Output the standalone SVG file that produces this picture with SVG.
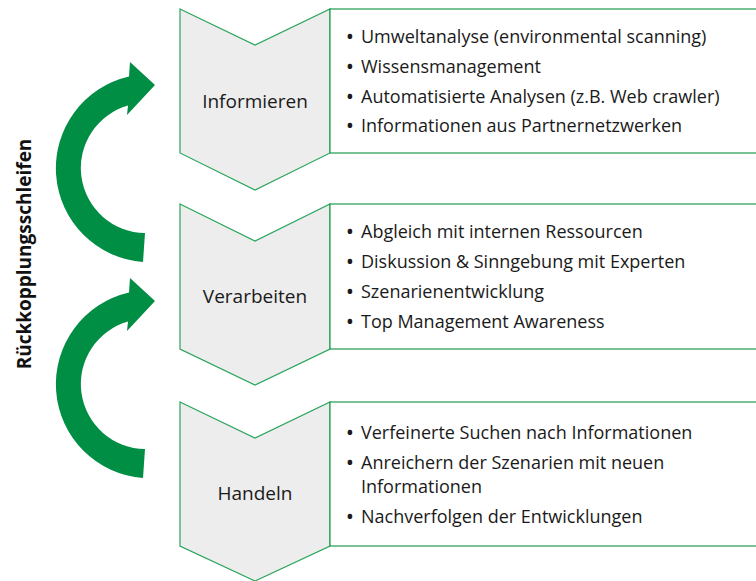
<svg xmlns="http://www.w3.org/2000/svg" width="756" height="581" viewBox="0 0 756 581">
<style>
.chev{fill:#EDEDED;stroke:#2BA55D;stroke-width:1.2}
.box{fill:#FFFFFF;stroke:#1E9A50;stroke-width:1.2}
.lbl{font-family:"Open Sans","Noto Sans",sans-serif;font-size:19px;fill:#1a1a1a;text-anchor:middle}
.itm{font-family:"Open Sans","Noto Sans",sans-serif;font-size:18px;fill:#1a1a1a}
.bul{font-family:"Open Sans","Noto Sans",sans-serif;font-size:22px;fill:#1a1a1a;text-anchor:middle}
.loop{fill:#008D44}
.side{font-family:"Open Sans","Noto Sans",sans-serif;font-size:19px;font-weight:bold;fill:#111;text-anchor:middle}
</style>
<defs>
<path id="loopArrow" class="loop" d="M143 262 A94 94 0 0 1 129 76.6 L130 62 L155 85 L127 115 L128 105.5 A65 65 0 0 0 145 233 Z"/>
</defs>
<g id="connectors">
<use href="#loopArrow"/>
<use href="#loopArrow" transform="translate(0,216)"/>
</g>
<text class="side" transform="translate(31,254) rotate(-90)">Rückkopplungsschleifen</text>
<g id="node-informieren">
<polygon class="chev" points="180,9 255,45 330,9 330,153 255,190 180,153"/>
<text class="lbl" x="255" y="108">Informieren</text>
</g>
<g id="box-informieren">
<rect class="box" x="330" y="9" width="430" height="144"/>
<text class="bul" x="350" y="44">•</text><text class="itm" x="361" y="43">Umweltanalyse (environmental scanning)</text>
<text class="bul" x="350" y="74">•</text><text class="itm" x="361" y="73">Wissensmanagement</text>
<text class="bul" x="350" y="104">•</text><text class="itm" x="361" y="103">Automatisierte Analysen (z.B. Web crawler)</text>
<text class="bul" x="350" y="133">•</text><text class="itm" x="361" y="132">Informationen aus Partnernetzwerken</text>
</g>
<g id="node-verarbeiten">
<polygon class="chev" points="180,204 255,241 330,204 330,349 255,385 180,349"/>
<text class="lbl" x="255" y="303">Verarbeiten</text>
</g>
<g id="box-verarbeiten">
<rect class="box" x="330" y="204" width="430" height="145"/>
<text class="bul" x="350" y="239">•</text><text class="itm" x="361" y="238">Abgleich mit internen Ressourcen</text>
<text class="bul" x="350" y="269">•</text><text class="itm" x="361" y="268">Diskussion &amp; Sinngebung mit Experten</text>
<text class="bul" x="350" y="299">•</text><text class="itm" x="361" y="298">Szenarienentwicklung</text>
<text class="bul" x="350" y="329">•</text><text class="itm" x="361" y="328">Top Management Awareness</text>
</g>
<g id="node-handeln">
<polygon class="chev" points="180,402 255,438 330,402 330,546 255,581 180,546"/>
<text class="lbl" x="255" y="500">Handeln</text>
</g>
<g id="box-handeln">
<rect class="box" x="330" y="402" width="430" height="144"/>
<text class="bul" x="350" y="440">•</text><text class="itm" x="361" y="439">Verfeinerte Suchen nach Informationen</text>
<text class="bul" x="350" y="470">•</text><text class="itm" x="361" y="469">Anreichern der Szenarien mit neuen</text>
<text class="itm" x="361" y="493">Informationen</text>
<text class="bul" x="350" y="524">•</text><text class="itm" x="361" y="523">Nachverfolgen der Entwicklungen</text>
</g>
</svg>
